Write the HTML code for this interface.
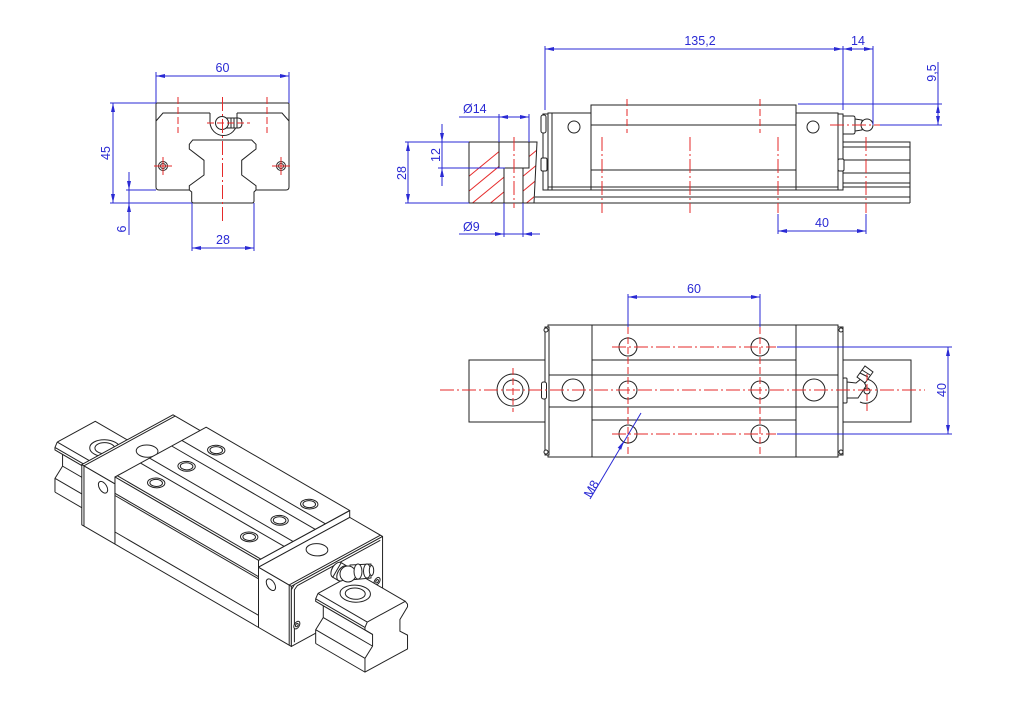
<!DOCTYPE html>
<html><head><meta charset="utf-8"><title>Linear guide block drawing</title>
<style>
html,body{margin:0;padding:0;background:#fff;width:1024px;height:710px;overflow:hidden}
svg{display:block}
svg *{vector-effect:non-scaling-stroke}
.k{stroke:#222;stroke-width:1;fill:none}
.kf{stroke:#222;stroke-width:1;fill:#fff}
.wf{fill:#fff;stroke:none}
.b{stroke:#2a2ad4;stroke-width:1;fill:none}
.bf{fill:#2a2ad4;stroke:none}
.r{stroke:#e52a2a;stroke-width:1;fill:none;stroke-dasharray:14 3 2 3}
.rd{stroke:#e52a2a;stroke-width:1;fill:none;stroke-dasharray:7 3}
.rs{stroke:#e52a2a;stroke-width:1;fill:none}
text{font-family:"Liberation Sans",Arial,sans-serif;font-size:12.5px;fill:#2a2ad4}
</style></head><body>
<svg width="1024" height="710" viewBox="0 0 1024 710" xmlns="http://www.w3.org/2000/svg">
<defs>
<clipPath id="sec"><path clip-rule="evenodd" d="M469,142 L537,142 L534,203 L469,203 Z M499,142 L529,142 L529,168 L523,168 L523,203 L504,203 L504,168 L499,168 Z"/></clipPath>
</defs>
<rect x="0" y="0" width="1024" height="710" fill="#fff"/>

<!-- ================= FRONT VIEW ================= -->
<g>
<path class="k" d="M189.3,190 L159,190 Q156,190 156,187 L156,104 Q156,103 157,103 L288,103 Q289,103 289,104 L289,187 Q289,190 286,190 L256,190"/>
<path class="k" d="M156,121 L163,113 L210,113 M237,113 L282,113 L289,121"/>
<path class="k" d="M210,113 L210,122 A13.5,13.5 0 0 0 237,122 L237,113"/>
<path class="kf" d="M227,118 L238,118 Q242,118 242,123 Q242,128 238,128 L227,128 Z"/>
<path class="k" d="M231,118 V128 M234,118 V128 M237,118 V128"/>
<circle class="kf" cx="222" cy="123" r="6.5" stroke-width="1.3"/>
<path class="k" stroke-width="2" d="M189.3,190 L189.3,185.7 L204,175 L204,160.3 L189.3,149 L189.3,144.3 L192.7,140 L251.7,140 L256,144.3 L256,149 L241.7,160.3 L241.7,175 L256,185.7 L256,190"/>
<path class="k" d="M189.3,190 L191.7,192 L191.7,201 Q191.7,203 193.7,203 L252,203 Q254,203 254,201 L254,192 L256,190"/>
<circle class="k" cx="163" cy="166" r="4.5"/><circle class="k" cx="163" cy="166" r="2.5" stroke-width="1.4"/>
<circle class="k" cx="281" cy="166" r="4.5"/><circle class="k" cx="281" cy="166" r="2.5" stroke-width="1.4"/>
<line class="r" x1="222.5" y1="97" x2="222.5" y2="224"/>
<line class="rd" x1="178" y1="97" x2="178" y2="133"/>
<line class="rd" x1="267" y1="97" x2="267" y2="133"/>
<line class="rd" x1="207" y1="123" x2="250" y2="123"/>
<path class="rs" d="M154,166 H172 M163,157 V175 M272,166 H290 M281,157 V175"/>
<!-- dims -->
<path class="b" d="M156,72 V103 M289,72 V103 M156,76 H289"/>
<path class="bf" d="M156,76 l9,-2 v4z M289,76 l-9,-2 v4z"/>
<text x="222.5" y="72" text-anchor="middle">60</text>
<path class="b" d="M110,103 H156 M110,203 H192 M113,103 V203"/>
<path class="bf" d="M113,103 l-2,9 h4z M113,203 l-2,-9 h4z"/>
<text transform="translate(110,153) rotate(-90)" text-anchor="middle">45</text>
<path class="b" d="M126,190 H156 M129,172 V235"/>
<path class="bf" d="M129,190 l-2,-9 h4z M129,203 l-2,9 h4z"/>
<text transform="translate(126,229) rotate(-90)" text-anchor="middle">6</text>
<path class="b" d="M192,203 V251 M254,203 V251 M192,248 H254"/>
<path class="bf" d="M192,248 l9,-2 v4z M254,248 l-9,-2 v4z"/>
<text x="223" y="244" text-anchor="middle">28</text>
</g>

<!-- ================= SIDE VIEW ================= -->
<g>
<!-- section -->
<g clip-path="url(#sec)" class="rs">
<line x1="428" y1="210" x2="518" y2="136"/><line x1="446" y1="210" x2="536" y2="136"/>
<line x1="464" y1="210" x2="554" y2="136"/><line x1="482" y1="210" x2="572" y2="136"/>
<line x1="500" y1="210" x2="590" y2="136"/><line x1="518" y1="210" x2="608" y2="136"/>
<line x1="536" y1="210" x2="626" y2="136"/><line x1="554" y1="210" x2="644" y2="136"/>
</g>
<path class="k" d="M469,142 H537 L534,203 H469 Z"/>
<path class="k" d="M499,142 V168 H529 V142 M504,168 V203 M523,168 V203"/>
<line class="r" x1="514" y1="137" x2="514" y2="208"/>
<!-- rail -->
<path class="k" d="M535,197 H910 M534,203 H910"/>
<path class="k" d="M843,142 H910 V203 M843,147 H910 M843,160 H910 M843,173 H910 M843,183 H910 M843,187 H910"/>
<!-- block -->
<rect class="kf" x="548" y="113" width="43" height="77"/>
<rect class="kf" x="591" y="105" width="205" height="85"/>
<rect class="kf" x="796" y="113" width="42" height="77"/>
<rect class="kf" x="838" y="114" width="5" height="76"/>
<rect class="kf" x="543" y="114" width="5" height="76"/>
<rect class="kf" x="541" y="115" width="5" height="18" rx="2"/>
<rect class="kf" x="541" y="158" width="6" height="13" rx="1.5"/>
<rect class="kf" x="838" y="159" width="6" height="12" rx="1.5"/>
<path class="k" d="M552,113 V190 M548,187 H838"/>
<path class="k" stroke-width="2" d="M591,125 H796 M591,170 H796"/>
<circle class="k" cx="574" cy="127" r="6"/>
<circle class="k" cx="813" cy="127" r="6"/>
<!-- nipple -->
<path class="kf" d="M843,116 H853 Q855,116 855,118 V132 Q855,134 853,134 H843 Z"/>
<path class="kf" d="M855,119 L862,120 V130 L855,131 Z"/>
<circle class="kf" cx="867" cy="125" r="6" stroke-width="1.5"/>
<line class="r" x1="830" y1="125" x2="888" y2="125"/>
<!-- red center lines -->
<line class="rd" x1="627" y1="99" x2="627" y2="133"/>
<line class="rd" x1="760" y1="99" x2="760" y2="133"/>
<line class="r" x1="602" y1="137" x2="602" y2="213"/>
<line class="r" x1="690" y1="137" x2="690" y2="213"/>
<line class="r" x1="778" y1="137" x2="778" y2="213"/>
<line class="r" x1="866" y1="137" x2="866" y2="213"/>
<!-- dims -->
<path class="b" d="M499,114 V142 M529,114 V142 M459,117 H529"/>
<path class="bf" d="M499,117 l9,-2 v4z M529,117 l-9,-2 v4z"/>
<text x="463" y="113">Ø14</text>
<path class="b" d="M438,142 H469 M438,168 H505 M442,124 V186"/>
<path class="bf" d="M442,142 l-2,-9 h4z M442,168 l-2,9 h4z"/>
<text transform="translate(440,155) rotate(-90)" text-anchor="middle">12</text>
<path class="b" d="M405,142 H438 M405,203 H469 M408,142 V203"/>
<path class="bf" d="M408,142 l-2,9 h4z M408,203 l-2,-9 h4z"/>
<text transform="translate(406,173) rotate(-90)" text-anchor="middle">28</text>
<path class="b" d="M504,203 V237 M523,203 V237 M459,234 H540"/>
<path class="bf" d="M504,234 l-9,-2 v4z M523,234 l9,-2 v4z"/>
<text x="463" y="231">Ø9</text>
<path class="b" d="M545,46 V110 M545,49 H873 M843,46 V110 M873,46 V125"/>
<path class="bf" d="M545,49 l9,-2 v4z M843,49 l-9,-2 v4z M843,49 l9,-2 v4z M873,49 l-9,-2 v4z"/>
<text x="700" y="45" text-anchor="middle">135,2</text>
<text x="858" y="45" text-anchor="middle">14</text>
<path class="b" d="M798,104 H942 M880,125 H942 M938,62 V125"/>
<path class="bf" d="M938,104 l-2,9 h4z M938,125 l-2,-9 h4z"/>
<text transform="translate(936,73) rotate(-90)" text-anchor="middle">9,5</text>
<path class="b" d="M778,214 V234 M866,214 V234 M778,231 H866"/>
<path class="bf" d="M778,231 l9,-2 v4z M866,231 l-9,-2 v4z"/>
<text x="822" y="227" text-anchor="middle">40</text>
</g>

<!-- ================= TOP VIEW ================= -->
<g>
<rect class="kf" x="469" y="360" width="442" height="62"/>
<circle class="k" cx="513" cy="390" r="16"/><circle class="k" cx="513" cy="390" r="10"/>
<rect class="kf" x="548" y="325" width="290" height="132"/>
<rect class="kf" x="545" y="327" width="4" height="128"/>
<rect class="kf" x="838" y="327" width="5" height="128"/>
<circle class="kf" cx="546" cy="330" r="2"/><circle class="kf" cx="546" cy="452" r="2"/>
<circle class="kf" cx="841" cy="330" r="2"/><circle class="kf" cx="841" cy="452" r="2"/>
<rect class="kf" x="541.5" y="382" width="5" height="17" rx="2"/>
<path class="k" d="M592,325 V457 M796,325 V457 M549,375 H838 M549,407 H838"/>
<path class="k" stroke-width="1.6" d="M592,360 H796 M592,420 H796 M592,375 H796 M592,407 H796"/>
<circle class="k" cx="573" cy="390" r="11"/>
<circle class="k" cx="814" cy="390" r="11"/>
<g class="kf" stroke-width="1.6">
<circle cx="628" cy="347" r="9"/><circle cx="760" cy="347" r="9"/>
<circle cx="628" cy="390" r="9"/><circle cx="760" cy="390" r="9"/>
<circle cx="628" cy="434" r="9"/><circle cx="760" cy="434" r="9"/>
</g>
<!-- nipple -->
<rect class="kf" x="843" y="378" width="4" height="25" rx="1"/>
<path class="kf" d="M847,382 L856,383 L862,378 L866,386 L858,398 L847,398 Z"/>
<path class="k" d="M861,380 A12,12 0 1 1 860,402"/>
<circle class="k" cx="867" cy="391" r="3"/>
<path class="kf" d="M857,377 L865,366 L873,372 L865,383 Z"/>
<path class="k" d="M860,373 L868,377 M862,370 L870,375"/>
<!-- red lines -->
<line class="r" x1="440" y1="390" x2="925" y2="390"/>
<line class="r" x1="612" y1="347" x2="776" y2="347"/>
<line class="r" x1="612" y1="434" x2="776" y2="434"/>
<line class="rd" x1="628" y1="327" x2="628" y2="456"/>
<line class="rd" x1="760" y1="327" x2="760" y2="456"/>
<line class="rd" x1="513" y1="368" x2="513" y2="412"/>
<line class="rd" x1="867" y1="374" x2="867" y2="412"/>
<!-- dims -->
<path class="b" d="M628,294 V327 M760,294 V327 M628,297 H760"/>
<path class="bf" d="M628,297 l9,-2 v4z M760,297 l-9,-2 v4z"/>
<text x="694" y="293" text-anchor="middle">60</text>
<path class="b" d="M777,347 H952 M777,434 H952 M948,347 V434"/>
<path class="bf" d="M948,347 l-2,9 h4z M948,434 l-2,-9 h4z"/>
<text transform="translate(946,390) rotate(-90)" text-anchor="middle">40</text>
<path class="b" d="M590,499 L641,413"/>
<path class="bf" d="M624,441 L621.1,449.8 L617.7,447.8 Z"/>
<text transform="translate(595,491) rotate(-59.5)" text-anchor="middle">M8</text>
</g>

<!-- ================= ISOMETRIC VIEW ================= -->
<g stroke-linejoin="round">
<!-- left rail segment -->
<polygon class="wf" points="95.25,421.27 146.4,450.97 106.12,521.82 54.97,492.12 54.97,478.36 62.57,466.13 62.57,454.43 54.97,449.98 54.97,447.4 57.25,442.02"/>
<path class="k" d="M57.25,442.02 L95.25,421.27 L146.4,450.97 M57.25,442.02 L108.4,471.72 M54.97,447.4 L106.12,477.1 M54.97,449.98 L106.12,479.68 M62.57,454.43 L113.72,484.13 M62.57,466.13 L113.72,495.83 M54.97,478.36 L106.12,508.06 M54.97,492.12 L106.12,521.82 M57.25,442.02 L54.97,447.4 L54.97,449.98 L62.57,454.43 L62.57,466.13 L54.97,478.36 L54.97,492.12"/>
<g transform="matrix(1.55 0.9 1.52 -0.83 81.8 486.25)"><circle class="kf" cx="-14.5" cy="30" r="7"/><circle class="k" cx="-14.5" cy="30" r="4.6"/></g>

<!-- left end plate -->
<polygon class="kf" points="81.8,464.58 114.97,483.84 114.97,544.04 81.8,524.78"/>
<polygon class="kf" points="81.8,464.58 114.97,483.84 206.17,434.04 173,414.78"/>
<path class="k" d="M83.97,465.84 L175.17,416.04 M83.97,465.84 L83.97,526.04"/>
<g transform="matrix(1.55 0.9 1.52 -0.83 81.8 464.58)"><circle class="k" cx="12.7" cy="30" r="5"/></g>
<g transform="matrix(1.55 0.9 0 -1.72 81.8 535.1)"><circle class="k" cx="13.7" cy="35" r="3"/></g>

<!-- main body -->
<polygon class="kf" points="258.5,560.3 349.7,510.5 349.7,517.38 258.5,567.18"/>
<polygon class="kf" points="114.97,477 258.5,560.3 349.7,510.5 206.17,427.2"/>
<polygon class="kf" points="114.97,477 258.5,560.3 258.5,627.38 114.97,544.08"/>
<path class="k" d="M114.97,493.3 L258.5,576.64 M114.97,495.5 L258.5,578.84 M114.97,532 L258.5,615.34"/>
<g transform="matrix(1.55 0.9 1.52 -0.83 81.8 457.7)">
<path class="k" d="M21.4,1.5 H114 M21.4,22.7 H114 M21.4,44 H114"/>
<path class="k" stroke-width="1.7" d="M21.4,16.8 H114 M21.4,37.3 H114"/>
<g class="kf" stroke-width="1.3">
<circle cx="37.7" cy="10.5" r="4"/><circle cx="37.7" cy="30.5" r="4"/><circle cx="37.7" cy="50" r="4"/>
<circle cx="97.7" cy="10.5" r="4"/><circle cx="97.7" cy="30.5" r="4"/><circle cx="97.7" cy="50" r="4"/>
</g>
<g class="k">
<circle cx="37.7" cy="10.5" r="2.9"/><circle cx="37.7" cy="30.5" r="2.9"/><circle cx="37.7" cy="50" r="2.9"/>
<circle cx="97.7" cy="10.5" r="2.9"/><circle cx="97.7" cy="30.5" r="2.9"/><circle cx="97.7" cy="50" r="2.9"/>
</g>
</g>

<!-- right end plate -->
<polygon class="kf" points="258.5,567.18 291.36,586.26 291.36,646.46 258.5,627.38"/>
<polygon class="kf" points="258.5,567.18 291.36,586.26 382.56,536.46 349.7,517.38"/>
<g transform="matrix(1.52 -0.83 0 -1.72 291.36 656.78)">
<path class="kf" d="M0,6 V39 L2,41 H60 V6 Z"/>
<path class="k" d="M2,7.5 V38 L4,39.5 H58.5"/>
<circle class="kf" cx="3.6" cy="16.7" r="2"/><circle class="k" cx="3.6" cy="16.7" r="0.9"/>
<circle class="kf" cx="56.4" cy="16.7" r="2"/><circle class="k" cx="56.4" cy="16.7" r="0.9"/>
</g>
<path class="k" d="M289.19,584.99 L380.39,535.19 M289.19,584.99 L289.19,645.19"/>
<g transform="matrix(1.55 0.9 1.52 -0.83 81.8 464.58)"><circle class="k" cx="122.3" cy="30" r="5"/></g>
<g transform="matrix(1.55 0.9 0 -1.72 81.8 535.1)"><circle class="k" cx="122" cy="35" r="3"/></g>

<!-- right rail segment -->
<polygon class="wf" points="317.96,593.4 355.96,572.65 405.25,601.27 407.53,604.16 407.53,606.74 399.93,619.49 399.93,631.19 407.53,635.12 407.53,648.88 364.97,672.12 315.68,643.5 315.68,629.74 323.28,617.51 323.28,605.81 315.68,601.36 315.68,598.78"/>
<path class="k" d="M317.96,593.4 L355.96,572.65 L405.25,601.27 M317.96,593.4 L367.25,622.02 M315.68,598.78 L364.97,627.4 M315.68,601.36 L364.97,629.98 M323.28,605.81 L372.57,634.43 M323.28,617.51 L372.57,646.13 M315.68,629.74 L364.97,658.36 M315.68,643.5 L364.97,672.12 M317.96,593.4 L315.68,598.78 L315.68,601.36 L323.28,605.81 L323.28,617.51 L315.68,629.74 L315.68,643.5"/>
<polygon class="k" points="367.25,622.02 364.97,627.4 364.97,629.98 372.57,634.43 372.57,646.13 364.97,658.36 364.97,672.12 407.53,648.88 407.53,635.12 399.93,631.19 399.93,619.49 407.53,606.74 407.53,604.16 405.25,601.27"/>
<g transform="matrix(1.55 0.9 1.52 -0.83 81.8 486.25)"><circle class="kf" cx="147" cy="30" r="7"/><circle class="k" cx="147" cy="30" r="4.6"/></g>

<!-- grease nipple -->
<g transform="matrix(1.52 -0.83 0 -1.72 291.36 656.78)"><circle class="kf" cx="30" cy="36" r="4"/></g>
<polygon class="kf" points="332.73,577.22 338.62,580.64 347.08,566.12 341.19,562.7"/>
<g transform="matrix(1.52 -0.83 0 -1.72 297.25 660.2)"><circle class="kf" cx="30" cy="36" r="4"/></g>
<path class="kf" d="M350,565 L371,564 L371,578 L350,580 Z"/>
<circle class="kf" cx="348" cy="574" r="8" stroke-width="1.3"/>
<ellipse class="kf" cx="358" cy="571.5" rx="4" ry="7.5"/>
<ellipse class="kf" cx="367" cy="571" rx="3.5" ry="7"/>
<ellipse class="kf" cx="371.5" cy="570.5" rx="2.2" ry="5"/>
</g>
</svg>
</body></html>
